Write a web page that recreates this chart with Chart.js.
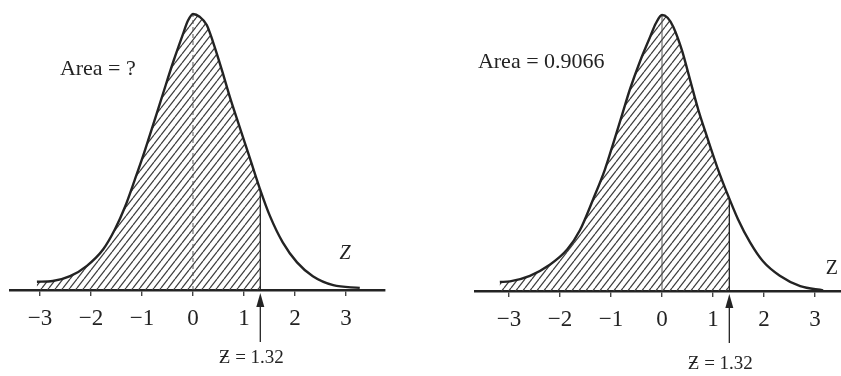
<!DOCTYPE html>
<html>
<head>
<meta charset="utf-8">
<script src="https://cdn.jsdelivr.net/npm/chart.js@4/dist/chart.umd.min.js"></script>
<style>
  html, body { margin: 0; padding: 0; background: #fff; }
  .panel { position: absolute; top: 0; }
</style>
</head>
<body>
<div class="panel" style="left:0"><canvas id="leftChart" width="420" height="376"></canvas></div>
<div class="panel" style="left:420px"><canvas id="rightChart" width="421" height="376"></canvas></div>
<script>
// z axis tick labels and the cut-off value marked by the arrow
const zTicks = [-3, -2, -1, 0, 1, 2, 3];
const zCut = 1.32;

// bell curve, left panel
const leftZ = [-3.06, -2.75, -2.41, -2.08, -1.76, -1.53, -1.33, -1.14, -0.98, -0.84, -0.71, -0.59, -0.39, -0.20, -0.10,
               0, 0.13, 0.27, 0.39, 0.57, 0.73, 0.92, 1.12, 1.31, 1.51, 1.76, 2.04, 2.35, 2.75, 3.27];
const leftDensity = [0.012, 0.013, 0.020, 0.035, 0.059, 0.088, 0.121, 0.160, 0.194, 0.226, 0.256, 0.284, 0.330, 0.370, 0.390,
                     0.400, 0.396, 0.384, 0.360, 0.318, 0.278, 0.235, 0.190, 0.147, 0.107, 0.069, 0.040, 0.020, 0.007, 0.003];

// bell curve, right panel
const rightZ = [-3.18, -2.98, -2.59, -2.20, -1.86, -1.61, -1.35, -1.12, -0.96, -0.78, -0.63, -0.43, -0.24, -0.12,
                0, 0.11, 0.22, 0.39, 0.55, 0.71, 0.88, 1.08, 1.27, 1.49, 1.73, 1.98, 2.31, 2.71, 3.16];
const rightDensity = [0.013, 0.014, 0.022, 0.038, 0.060, 0.088, 0.133, 0.176, 0.213, 0.256, 0.292, 0.333, 0.367, 0.388,
                      0.400, 0.396, 0.383, 0.349, 0.306, 0.263, 0.224, 0.180, 0.143, 0.104, 0.070, 0.043, 0.022, 0.007, 0.001];

const areaLabels = ['Area = ?', 'Area = 0.9066'];
const cutLabel = 'Ƶ = 1.32';
const axisName = 'Z';

const SERIF = "'Liberation Serif', 'DejaVu Serif', serif";
const INK = '#232323';

// diagonal hatching for the area left of the cut-off
function makeHatch(ctx) {
    const tile = document.createElement('canvas');
    tile.width = 7;
    tile.height = 9;
    const t = tile.getContext('2d');
    t.strokeStyle = '#3c3c3c';
    t.lineWidth = 1.2;
    for (let k = -1; k <= 1; k++) {
        t.beginPath();
        t.moveTo(k * 7, 9);
        t.lineTo(k * 7 + 7, 0);
        t.stroke();
    }
    return ctx.createPattern(tile, 'repeat');
}

const shadingPlugin = {
    id: 'shading',
    beforeDatasetsDraw(chart) {
        const meta = chart.getDatasetMeta(0);
        const line = meta.dataset;
        const pts = meta.data;
        const { ctx, chartArea: a, scales: { x } } = chart;
        const cutPx = x.getPixelForValue(zCut);
        const zeroPx = x.getPixelForValue(0);
        const o = chart.options.plugins.shading;

        if (line.updateControlPoints) line.updateControlPoints(a, 'x');

        ctx.save();
        // region under the curve
        ctx.beginPath();
        line.path(ctx);
        ctx.lineTo(pts[pts.length - 1].x, a.bottom);
        ctx.lineTo(pts[0].x, a.bottom);
        ctx.closePath();
        ctx.clip();

        ctx.fillStyle = makeHatch(ctx);
        ctx.fillRect(a.left, a.top, cutPx - a.left, a.bottom - a.top);

        // boundary at the cut-off
        ctx.strokeStyle = INK;
        ctx.lineWidth = 1.3;
        ctx.beginPath();
        ctx.moveTo(cutPx, a.bottom);
        ctx.lineTo(cutPx, a.top);
        ctx.stroke();

        // line down from the mean
        ctx.strokeStyle = '#555';
        ctx.lineWidth = 1;
        ctx.setLineDash(o.zeroDash);
        ctx.beginPath();
        ctx.moveTo(zeroPx, a.bottom);
        ctx.lineTo(zeroPx, a.top);
        ctx.stroke();
        ctx.restore();
    },
    afterDraw(chart) {
        const { ctx, chartArea: a, scales: { x, y } } = chart;
        const o = chart.options.plugins.shading;
        const cutPx = x.getPixelForValue(zCut);

        ctx.save();
        ctx.fillStyle = INK;
        ctx.strokeStyle = INK;

        // arrow pointing up at the cut-off
        ctx.lineWidth = 1.3;
        ctx.beginPath();
        ctx.moveTo(cutPx, a.bottom + 52);
        ctx.lineTo(cutPx, a.bottom + 14);
        ctx.stroke();
        ctx.beginPath();
        ctx.moveTo(cutPx, a.bottom + 3);
        ctx.lineTo(cutPx - 4, a.bottom + 17);
        ctx.lineTo(cutPx + 4, a.bottom + 17);
        ctx.closePath();
        ctx.fill();

        ctx.textBaseline = 'middle';
        ctx.textAlign = 'center';
        ctx.font = '19px ' + SERIF;
        ctx.fillText(cutLabel, cutPx - 9, a.bottom + o.cutLabelDrop);

        ctx.textAlign = 'left';
        ctx.font = '22px ' + SERIF;
        ctx.fillText(o.area, x.getPixelForValue(o.areaAt[0]), y.getPixelForValue(o.areaAt[1]));

        ctx.textAlign = 'center';
        ctx.font = (o.zItalic ? 'italic ' : '') + '20px ' + SERIF;
        ctx.fillText(axisName, x.getPixelForValue(o.zAt[0]), y.getPixelForValue(o.zAt[1]));
        ctx.restore();
    }
};

function makePanel(canvasId, zs, dens, p) {
    new Chart(document.getElementById(canvasId), {
        type: 'line',
        data: {
            datasets: [{
                data: zs.map((z, i) => ({ x: z, y: dens[i] })),
                borderColor: INK,
                borderWidth: 2.4,
                pointRadius: 0,
                fill: false,
                cubicInterpolationMode: 'monotone'
            }]
        },
        options: {
            responsive: false,
            animation: false,
            layout: { padding: p.padding },
            plugins: {
                legend: { display: false },
                tooltip: { enabled: false },
                shading: {
                    area: p.area,
                    areaAt: p.areaAt,
                    zAt: p.zAt,
                    zItalic: p.zItalic,
                    zeroDash: p.zeroDash,
                    cutLabelDrop: p.cutLabelDrop
                }
            },
            scales: {
                x: {
                    type: 'linear',
                    min: p.xMin,
                    max: p.xMax,
                    afterBuildTicks: (scale) => {
                        scale.ticks = zTicks.map(v => ({ value: v }));
                    },
                    border: { display: true, color: INK, width: 2.6 },
                    grid: { display: true, drawOnChartArea: false, drawTicks: true, tickLength: 6, color: '#444', lineWidth: 1.4 },
                    ticks: {
                        color: INK,
                        padding: 11,
                        maxRotation: 0,
                        font: { family: SERIF, size: 23, lineHeight: 1 },
                        callback: (v) => (v < 0 ? '\u2212' + Math.abs(v) : String(v))
                    }
                },
                y: { display: false, min: 0, max: p.yMax }
            }
        },
        plugins: [shadingPlugin]
    });
}

makePanel('leftChart', leftZ, leftDensity, {
    xMin: -3.588, xMax: 3.765, yMax: 0.4144,
    padding: { left: 10, right: 35, top: 4, bottom: 35 },
    area: areaLabels[0], areaAt: [-2.61, 0.3206],
    zAt: [2.98, 0.052], zItalic: true,
    zeroDash: [4, 3], cutLabelDrop: 68
});

makePanel('rightChart', rightZ, rightDensity, {
    xMin: -3.667, xMax: 3.51, yMax: 0.4159,
    padding: { left: 55, right: 0, top: 4, bottom: 34 },
    area: areaLabels[1], areaAt: [-3.61, 0.332],
    zAt: [3.33, 0.032], zItalic: false,
    zeroDash: [], cutLabelDrop: 73
});
</script>
</body>
</html>
